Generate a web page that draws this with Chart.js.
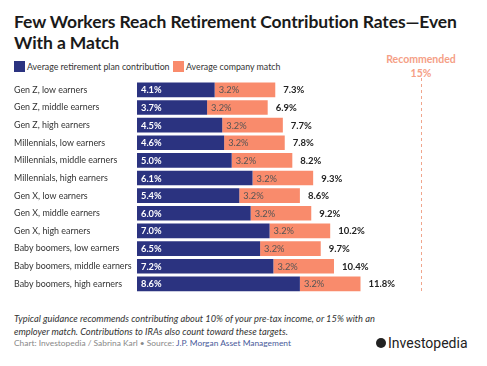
<!DOCTYPE html>
<html><head><meta charset="utf-8">
<script src="https://cdn.jsdelivr.net/npm/chart.js@4/dist/chart.umd.min.js"></script>
<style>
html,body{margin:0;padding:0;background:#fff;width:487px;height:366px;overflow:hidden;font-family:Lato,"Open Sans",sans-serif;}
#title{position:absolute;left:14px;top:11px;width:460px;font-weight:700;font-size:17.5px;line-height:21px;color:#1a1a1a;letter-spacing:-0.1px;}
.leg{position:absolute;top:61px;font-size:8.8px;color:#333;display:flex;align-items:center;}
.sw{display:inline-block;width:11px;height:11px;margin-right:2px;}
#rec{position:absolute;left:379px;top:52px;width:84px;text-align:center;font-weight:700;font-size:10.5px;line-height:14px;color:#f5a086;}
#wrap{position:absolute;left:0;top:72px;width:487px;height:226px;}
#note{position:absolute;left:14px;top:312px;width:400px;font-style:italic;font-size:9.3px;line-height:13px;color:#333;}
#src{position:absolute;left:14px;top:338px;font-size:8.4px;color:#888;}
#src span{color:#4a5a9a;}
#logo{position:absolute;left:376px;top:335px;font-size:14px;color:#222;display:flex;align-items:center;font-family:Roboto,sans-serif;}
#logo i{display:inline-block;width:10px;height:10px;border-radius:50%;background:#222;margin-right:2px;}
#logo b{font-weight:400;display:inline-block;}
</style></head><body>
<div id="title">Few Workers Reach Retirement Contribution Rates—Even With a Match</div>
<div class="leg" style="left:14px"><span class="sw" style="background:#2b3380"></span>Average retirement plan contribution</div>
<div class="leg" style="left:173px"><span class="sw" style="background:#f98b6c"></span>Average company match</div>
<div id="rec">Recommended<br>15%</div>
<div id="wrap"><canvas id="c" width="487" height="226"></canvas></div>
<div id="note">Typical guidance recommends contributing about 10% of your pre-tax income, or 15% with an<br>employer match. Contributions to IRAs also count toward these targets.</div>
<div id="src">Chart: Investopedia / Sabrina Karl • Source: <span>J.P. Morgan Asset Management</span></div>
<div id="logo"><i></i><b>Investopedia</b></div>
<script>
const categories = ["Gen Z, low earners","Gen Z, middle earners","Gen Z, high earners","Millennials, low earners","Millennials, middle earners","Millennials, high earners","Gen X, low earners","Gen X, middle earners","Gen X, high earners","Baby boomers, low earners","Baby boomers, middle earners","Baby boomers, high earners"];
const contribution = [4.1,3.7,4.5,4.6,5.0,6.1,5.4,6.0,7.0,6.5,7.2,8.6];
const companyMatch = [3.2,3.2,3.2,3.2,3.2,3.2,3.2,3.2,3.2,3.2,3.2,3.2];
const totals = [7.3,6.9,7.7,7.8,8.2,9.3,8.6,9.2,10.2,9.7,10.4,11.8];
const recommended = 15;

const labelPlugin = {
  id:'labels',
  afterDatasetsDraw(chart){
    const ctx = chart.ctx;
    const m0 = chart.getDatasetMeta(0), m1 = chart.getDatasetMeta(1);
    ctx.save();
    ctx.textBaseline='middle';
    m0.data.forEach((b,i)=>{
      ctx.font='bold 9.3px Lato, sans-serif'; ctx.fillStyle='#fff'; ctx.textAlign='left';
      ctx.fillText(contribution[i].toFixed(1)+'%', b.base+4, b.y+0.5);
      const b1 = m1.data[i];
      ctx.font='9.3px Lato, sans-serif'; ctx.fillStyle='#555';
      ctx.fillText(companyMatch[i].toFixed(1)+'%', b1.base+4, b1.y+0.5);
      ctx.font='bold 9.5px Lato, sans-serif'; ctx.fillStyle='#222';
      ctx.fillText(totals[i].toFixed(1)+'%', b1.x+8, b1.y+0.5);
    });
    const xs = chart.scales.x;
    const px = Math.round(xs.getPixelForValue(recommended))+0.5;
    ctx.strokeStyle='#f0a58c'; ctx.lineWidth=1; ctx.setLineDash([3,3]);
    ctx.beginPath(); ctx.moveTo(px, 6); ctx.lineTo(px, chart.chartArea.bottom); ctx.stroke();
    ctx.restore();
  }
};

new Chart(document.getElementById('c'),{
  type:'bar',
  data:{labels:categories,datasets:[
    {label:'Average retirement plan contribution',data:contribution,backgroundColor:'#2b3380',categoryPercentage:1,barPercentage:0.83},
    {label:'Average company match',data:companyMatch,backgroundColor:'#f98b6c',categoryPercentage:1,barPercentage:0.83}
  ]},
  options:{
    indexAxis:'y',responsive:false,animation:false,
    layout:{padding:{left:14,right:28,top:9,bottom:0}},
    plugins:{legend:{display:false},tooltip:{enabled:false}},
    scales:{
      x:{stacked:true,min:0,max:17,display:false},
      y:{stacked:true,grid:{display:false},border:{display:false},
         ticks:{crossAlign:'far',color:'#333',font:{family:'Lato, sans-serif',size:8.9},padding:0},
         afterFit(s){s.width=123;}}
    }
  },
  plugins:[labelPlugin]
});
</script>
</body></html>
